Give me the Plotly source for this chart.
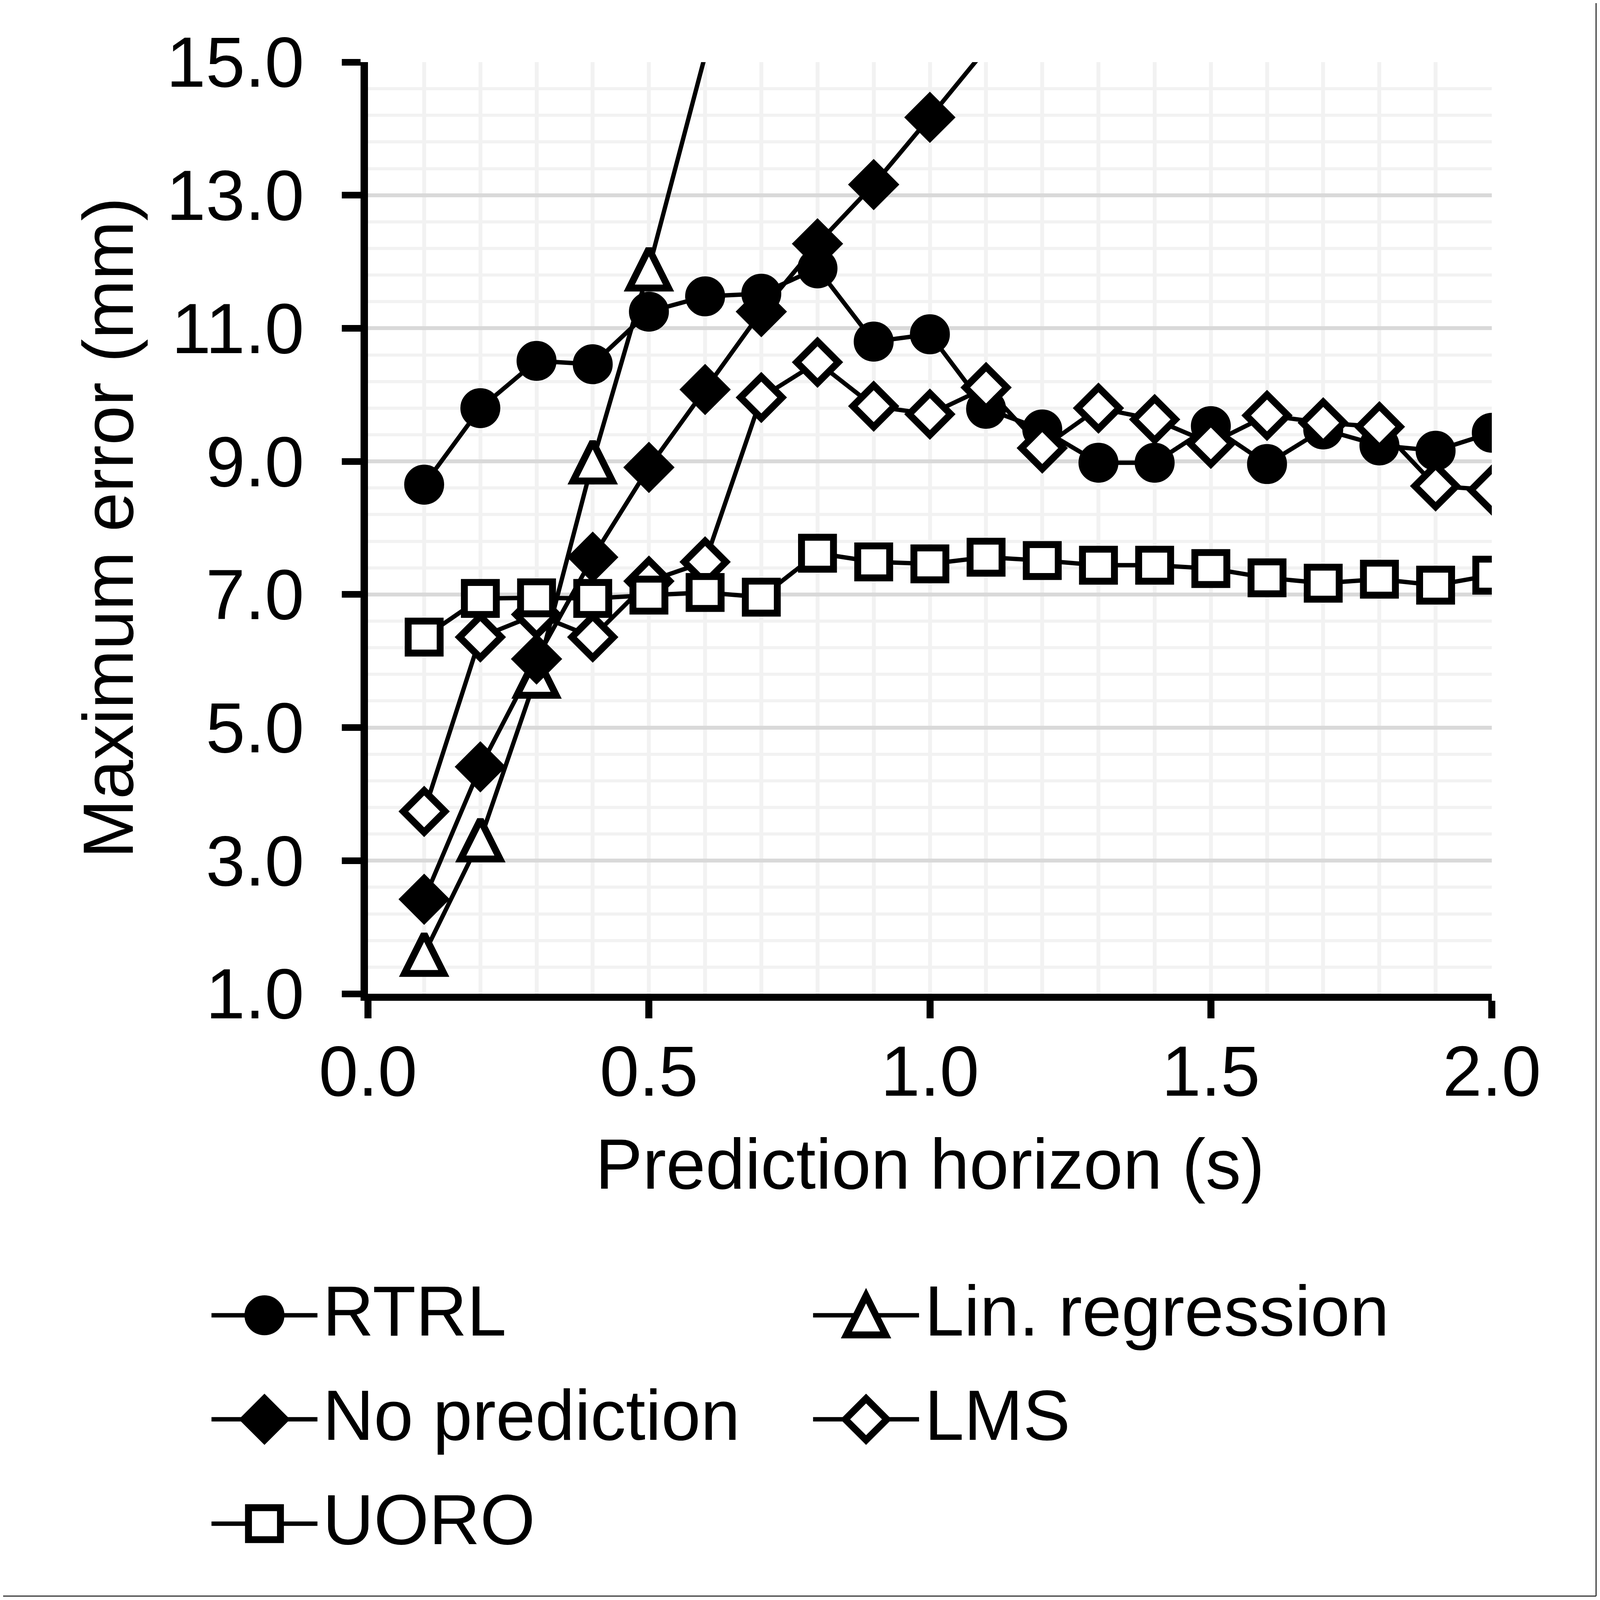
import plotly.graph_objects as go

# prediction horizon (s)
horizon = [0.1, 0.2, 0.3, 0.4, 0.5, 0.6, 0.7, 0.8, 0.9, 1.0,
           1.1, 1.2, 1.3, 1.4, 1.5, 1.6, 1.7, 1.8, 1.9, 2.0]

# maximum error (mm)
rtrl = [8.65, 9.80, 10.51, 10.46, 11.25, 11.48, 11.52, 11.90, 10.80, 10.91,
        9.79, 9.48, 8.98, 8.98, 9.53, 8.96, 9.48, 9.24, 9.16, 9.43]
lin_regression = [1.60, 3.32, 5.78, 9.00, 11.90, 15.10]
no_prediction = [2.42, 4.41, 6.03, 7.56, 8.91, 10.08, 11.25, 12.27, 13.16, 14.17, 15.20]
lms = [3.74, 6.36, 6.70, 6.36, 7.20, 7.49, 9.96, 10.49, 9.83, 9.71,
       10.11, 9.20, 9.80, 9.63, 9.27, 9.69, 9.58, 9.52, 8.63, 8.57]
uoro = [6.36, 6.94, 6.95, 6.94, 6.99, 7.03, 6.96, 7.62, 7.49, 7.46,
        7.56, 7.51, 7.44, 7.44, 7.39, 7.25, 7.17, 7.23, 7.14, 7.29]

y_min, y_max = 1.0, 15.0

# layout measured in reference pixels (4274 x 4568); the page that gets
# photographed is 4096 x 4096 css px, so x and y are scaled separately
W, H = 4274, 4568
VIEW = 4096
SX, SY = VIEW / W, VIEW / H
S = 0.93                      # scale for sizes / fonts
OFF = 8                       # body margin of the html page
FW = FH = VIEW - 2 * OFF
L, R, T, B = 983, 3985, 177, 2837   # plot area, reference pixels

ML = L * SX - OFF
MR = FW + OFF - R * SX
MT = T * SY - OFF
MB = FH + OFF - B * SY

FONT = "Liberation Sans, Arial, sans-serif"
FS = 195 * S
LW = 12 * S      # series line width
MLW = 19 * S     # marker outline width


def px_x(p):
    return (p - L) / (R - L)


def px_y(p):
    return (B - p) / (B - T)


def sizes(vals, s):
    # markers whose centre falls above the axis are not drawn (lines still are)
    return [s if v <= y_max else 0 for v in vals]


series = [
    # name, y values, plotly symbol, fill, marker size, legend col, legend row
    ("RTRL", rtrl, "circle", "black", 91 * S, 0, 0),
    ("Lin. regression", lin_regression, "arrow-down", "white", 108 * S, 1, 0),
    ("No prediction", no_prediction, "diamond", "black", 88 * S, 0, 1),
    ("LMS", lms, "diamond", "white", 88 * S, 1, 1),
    ("UORO", uoro, "square", "white", 88 * S, 0, 2),
]

fig = go.Figure()
for name, vals, sym, fill, ms, col, row in series:
    marker = dict(symbol=sym, color=fill, size=sizes(vals, ms), opacity=1,
                  line=dict(color="black", width=MLW))
    if sym == "arrow-down":
        # upright triangle centred on the point
        marker.update(angle=180, standoff=ms / 2)
    fig.add_trace(go.Scatter(
        x=horizon[:len(vals)], y=vals, name=name, mode="lines+markers",
        line=dict(color="black", width=LW), marker=marker, showlegend=False,
    ))

# hand-made legend so the symbols keep their full size
leg_rows = [3755, 4052, 4350]
leg_cols = [(565, 848, 860), (2172, 2455, 2468)]
shapes = []
annotations = []
for name, vals, sym, fill, ms, col, row in series:
    lx0, lx1, tx = leg_cols[col]
    ly = leg_rows[row]
    mx = (lx0 + lx1) / 2
    shapes.append(dict(type="line", xref="paper", yref="paper",
                       x0=px_x(lx0), x1=px_x(lx1), y0=px_y(ly), y1=px_y(ly),
                       line=dict(color="black", width=LW)))
    common = dict(xref="paper", yref="paper", xsizemode="pixel", ysizemode="pixel",
                  xanchor=px_x(mx), yanchor=px_y(ly), fillcolor=fill,
                  line=dict(color="black", width=MLW))
    r = ms / 2
    if sym == "circle":
        shapes.append(dict(type="circle", x0=-r, x1=r, y0=-r, y1=r, **common))
    elif sym == "square":
        shapes.append(dict(type="rect", x0=-r, x1=r, y0=-r, y1=r, **common))
    elif sym == "diamond":
        d = 1.3 * r
        shapes.append(dict(type="path", path=f"M{d},0 L0,{d} L{-d},0 L0,{-d} Z", **common))
    else:
        shapes.append(dict(type="path", path=f"M{-r},{-r} L{r},{-r} L0,{r} Z", **common))
    annotations.append(dict(text=name, xref="paper", yref="paper", x=px_x(tx), y=px_y(ly - 12),
                            xanchor="left", yanchor="middle", showarrow=False,
                            font=dict(family=FONT, size=FS, color="black")))

# axis titles
annotations.append(dict(text="Prediction horizon (s)", xref="paper", yref="paper",
                        x=0.5, y=px_y(3323), xanchor="center", yanchor="middle",
                        showarrow=False, font=dict(family=FONT, size=FS, color="black")))
annotations.append(dict(text="Maximum error (mm)", xref="paper", yref="paper",
                        x=px_x(289), y=0.5, xanchor="center", yanchor="middle",
                        textangle=-90, showarrow=False,
                        font=dict(family=FONT, size=FS, color="black")))

# thin frame on the right and bottom edges of the picture
pw, ph = FW - ML - MR, FH - MT - MB
ex = (FW - 2 - ML) / pw
ey = -(FH - 2 - MT - ph) / ph
shapes.append(dict(type="line", xref="paper", yref="paper", x0=ex, x1=ex,
                   y0=ey, y1=(MT + ph) / ph + 1, line=dict(color="#333333", width=3)))
shapes.append(dict(type="line", xref="paper", yref="paper", x0=-ML / pw, x1=ex,
                   y0=ey, y1=ey, line=dict(color="#333333", width=3)))

fig.update_xaxes(
    range=[0, 2], tick0=0, dtick=0.5, tickformat=".1f",
    showline=True, linecolor="black", linewidth=20 * SY,
    ticks="outside", ticklen=50 * SY, tickwidth=19 * SX, tickcolor="black",
    showgrid=True, gridcolor="#F2F2F2", gridwidth=10 * SX, zeroline=False,
    minor=dict(dtick=0.1, tick0=0, showgrid=True, gridcolor="#F2F2F2", gridwidth=10 * SX),
    tickfont=dict(family=FONT, size=FS, color="black"),
    ticklabelstandoff=-19,
)
fig.update_yaxes(
    range=[y_min, y_max], tick0=1, dtick=2, tickformat=".1f",
    showline=True, linecolor="black", linewidth=20 * SX,
    ticks="outside", ticklen=50 * SX, tickwidth=19 * SY, tickcolor="black",
    showgrid=True, gridcolor="#D9D9D9", gridwidth=11 * SY, zeroline=False,
    minor=dict(dtick=0.4, tick0=1, showgrid=True, gridcolor="#F2F2F2", gridwidth=9 * SY),
    tickfont=dict(family=FONT, size=FS, color="black"),
    ticklabelstandoff=60,
)

fig.update_layout(
    width=FW, height=FH,
    margin=dict(l=ML, r=MR, t=MT, b=MB, pad=0),
    plot_bgcolor="white", paper_bgcolor="white",
    shapes=shapes, annotations=annotations,
    showlegend=False,
)

fig.write_html("out.html")
